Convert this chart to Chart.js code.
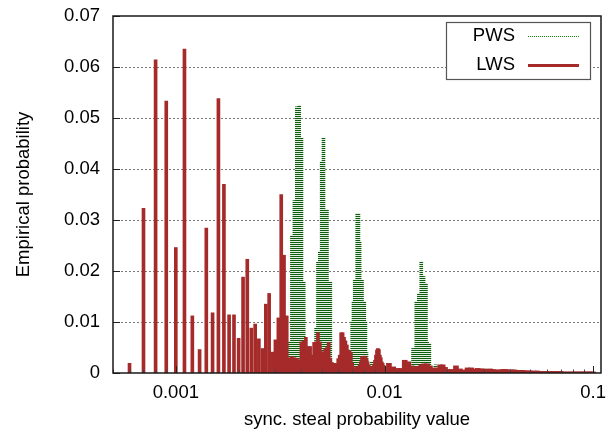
<!DOCTYPE html>
<html><head><meta charset="utf-8">
<script src="https://cdn.jsdelivr.net/npm/chart.js@4.4.1/dist/chart.umd.min.js"></script>
<style>html,body{margin:0;padding:0;background:#fff;}canvas{display:block;}</style>
</head><body>
<canvas id="c" width="606" height="432"></canvas>
<script>
// ---------- data ----------
const xTitle = 'sync. steal probability value';
const yTitle = 'Empirical probability';
const xTickValues = [0.001, 0.01, 0.1];
const xTickLabels = ['0.001', '0.01', '0.1'];
const yTickValues = [0, 0.01, 0.02, 0.03, 0.04, 0.05, 0.06, 0.07];
const yTickLabels = ['0', '0.01', '0.02', '0.03', '0.04', '0.05', '0.06', '0.07'];
const seriesNames = ['PWS', 'LWS'];

// PWS (dotted impulses)
const pwsX = [0.0035,0.0036,0.0037,0.0038,0.0039,0.0040,0.0041,
  0.0047,0.0048,0.0049,0.0050,0.0051,0.0052,0.0053,0.0054,0.0055,0.0056,
  0.0070,0.0071,0.0072,0.0073,0.0074,0.0075,0.0076,0.0077,0.0078,0.0079,0.0080,0.0081,0.0082,
  0.0087,
  0.0137,0.0139,0.0142,0.0144,0.0146,0.0148,0.0150,0.0152,0.0154,0.0156,0.0158,0.0160,0.0162,0.0164,
  0.0174,0.0176];
const pwsY = [0.0061,0.0270,0.0338,0.0522,0.0525,0.0461,0.0179,
  0.0088,0.0217,0.0238,0.0414,0.0461,0.0320,0.0320,0.0178,0.0178,0.0020,
  0.0101,0.0140,0.0182,0.0182,0.0313,0.0313,0.0257,0.0182,0.0182,0.0140,0.0140,0.0101,0.0040,
  0.0022,
  0.0048,0.0048,0.0140,0.0140,0.0156,0.0156,0.0218,0.0189,0.0189,0.0175,0.0175,0.0061,0.0058,0.0058,
  0.0012,0.0016];

// LWS (solid impulses), fine-resolution part
const lwsX = [0.0006,0.0007,0.0008,0.0009,0.0010,0.0011,0.0012,0.0013,0.0014,0.0015,
  0.0016,0.0017,0.0018,0.0019,0.0020,0.0021,0.0022,0.0023,0.0024,0.0025,
  0.0026,0.0027,0.0028,0.0029,0.0030,0.0031,0.0032,0.0033,0.0034,0.0035,
  0.0036,0.0037,0.0038,0.0039,0.0040,0.0041,0.0042,0.0043,0.0044,0.0045,
  0.0046,0.0047,0.0048,0.0049,0.0050,0.0051,0.0052,0.0053,0.0054,0.0055,
  0.0056,0.0057,0.0058,0.0059,0.0060,0.0061,0.0062,0.0063,0.0064,0.0065,
  0.0066,0.0067,0.0068,0.0069,0.0070,0.0071,0.0072,0.0073,0.0074,0.0075,
  0.0076,0.0077,0.0078,0.0079,0.0080,0.0081,0.0082,0.0083,0.0084,0.0085,
  0.0086,0.0087,0.0088,0.0089,0.0090,0.0091,0.0092,0.0093,0.0094,0.0095,
  0.0096,0.0097,0.0098,0.0099,0.0100];
const lwsY = [0.0019,0.0323,0.0614,0.0533,0.0246,0.0635,0.0112,0.0046,0.0284,0.0118,
  0.0538,0.0370,0.0114,0.0114,0.0068,0.0188,0.0223,0.0088,0.0096,0.0067,
  0.0048,0.0135,0.0156,0.0041,0.0065,0.0108,0.0350,0.0231,0.0112,0.0030,
  0.0032,0.0030,0.0029,0.0026,0.0061,0.0063,0.0070,0.0052,0.0052,0.0035,
  0.0060,0.0061,0.0079,0.0061,0.0042,0.0040,0.0048,0.0050,0.0060,0.0029,
  0.0020,0.0019,0.0018,0.0019,0.0028,0.0035,0.0079,0.0079,0.0070,0.0063,
  0.0055,0.0045,0.0043,0.0040,0.0019,0.0009,0.0007,0.0012,0.0012,0.0013,
  0.0015,0.0022,0.0032,0.0032,0.0033,0.0032,0.0028,0.0022,0.0016,0.0012,
  0.0009,0.0010,0.0012,0.0016,0.0025,0.0035,0.0045,0.0048,0.0046,0.0035,
  0.0030,0.0022,0.0019,0.0015,0.0010];

// LWS, coarse tail part (same series)
const lwsTailX = [0.0105,0.0110,0.0115,0.0120,0.0125,0.0130,0.0135,0.0140,0.0145,0.0150,
  0.0155,0.0160,0.0165,0.0170,0.0175,0.0180,0.0185,0.0190,0.0195,0.0200,
  0.021,0.022,0.023,0.024,0.025,0.026,0.027,0.028,0.029,0.030,
  0.031,0.032,0.033,0.034,0.035,0.036,0.037,0.038,0.039,0.040,
  0.041,0.042,0.043,0.044,0.045,0.046,0.047,0.048,0.049,0.050,
  0.052,0.054,0.056,0.058,0.060,0.062,0.064,0.066,0.068,0.070,
  0.072,0.074,0.076,0.078,0.080,0.082,0.084,0.086,0.088,0.090,
  0.092,0.094,0.096,0.098,0.100];
const lwsTailY = [0.0019,0.0012,0.0009,0.0009,0.0025,0.0022,0.0014,0.0011,0.0013,0.0016,
  0.0018,0.0018,0.0014,0.0010,0.0006,0.0010,0.0016,0.0016,0.0011,0.0007,
  0.0007,0.0014,0.0008,0.0006,0.0010,0.0010,0.0008,0.0009,0.0008,0.0008,
  0.0007,0.0008,0.0007,0.0006,0.0006,0.0006,0.0007,0.0007,0.0006,0.0006,
  0.0006,0.0006,0.0005,0.0005,0.0005,0.0005,0.0004,0.0004,0.0004,0.0004,
  0.0004,0.0004,0.0003,0.0003,0.0003,0.0003,0.0003,0.0003,0.0003,0.0003,
  0.0002,0.0002,0.0002,0.0002,0.0002,0.0002,0.0002,0.0002,0.0002,0.0002,
  0.0002,0.0002,0.0002,0.0002,0.0002];

const xMin = 0.0005, xMax = 0.109, yMin = 0, yMax = 0.07;

// ---------- styling ----------
const FONT = "'Liberation Sans', Arial, Helvetica, sans-serif";
const FS = 18.5;
const LWS_COLOR = '#a52a2a';
const PWS_DARK = '#0f5e0f';
const PWS_LIGHT = '#e2ede2';

Chart.defaults.font.family = FONT;
Chart.defaults.font.size = FS;
Chart.defaults.color = '#000';

const canvas = document.getElementById('c');
const ctx0 = canvas.getContext('2d');
const pc = document.createElement('canvas');
pc.width = 2; pc.height = 2;
const pctx = pc.getContext('2d');
pctx.fillStyle = PWS_LIGHT; pctx.fillRect(0, 0, 2, 2);
pctx.fillStyle = PWS_DARK; pctx.fillRect(0, 0, 2, 1);
const pwsPattern = ctx0.createPattern(pc, 'repeat');

const toXY = (xs, ys) => xs.map((x, i) => ({x: x, y: ys[i]}));

const decoPlugin = {
  id: 'deco',
  beforeDatasetsDraw(chart) {
    const {ctx, chartArea: a, scales: {y}} = chart;
    ctx.save();
    ctx.strokeStyle = '#7a7a7a';
    ctx.lineWidth = 1;
    ctx.setLineDash([2, 2]);
    yTickValues.forEach(v => {
      if (v <= yMin || v >= yMax) return;
      const py = Math.round(y.getPixelForValue(v)) + 0.5;
      ctx.beginPath(); ctx.moveTo(a.left, py); ctx.lineTo(a.right, py); ctx.stroke();
    });
    ctx.restore();
  },
  afterDatasetsDraw(chart) {
    const {ctx, chartArea: a, scales: {x, y}} = chart;
    ctx.save();
    ctx.setLineDash([]);
    // y ticks (inward)
    ctx.strokeStyle = '#222';
    ctx.lineWidth = 1;
    yTickValues.forEach(v => {
      const py = Math.round(y.getPixelForValue(v)) + 0.5;
      ctx.beginPath(); ctx.moveTo(a.left, py); ctx.lineTo(a.left + 7, py); ctx.stroke();
    });
    // x ticks: major and minor (log)
    for (let d = -4; d <= -1; d++) {
      for (let m = 1; m <= 9; m++) {
        const v = m * Math.pow(10, d);
        if (v < xMin || v > xMax) continue;
        const px = Math.round(x.getPixelForValue(v)) + 0.5;
        const len = (m === 1) ? 7 : 3.5;
        ctx.strokeStyle = (m === 1) ? '#222' : '#444';
        ctx.beginPath(); ctx.moveTo(px, a.bottom); ctx.lineTo(px, a.bottom - len); ctx.stroke();
      }
    }
    // frame
    ctx.strokeStyle = '#1a1a1a';
    ctx.lineWidth = 1.5;
    ctx.strokeRect(a.left, a.top, a.right - a.left, a.bottom - a.top);
    // legend
    const lx = 446.5, ly = 22.5, lw = 144, lh = 57;
    ctx.fillStyle = '#fff';
    ctx.fillRect(lx, ly, lw, lh);
    ctx.strokeStyle = '#555';
    ctx.lineWidth = 1.2;
    ctx.strokeRect(lx, ly, lw, lh);
    ctx.font = FS + 'px ' + FONT;
    ctx.fillStyle = '#000';
    ctx.textAlign = 'right';
    ctx.textBaseline = 'middle';
    const rows = [36, 65];
    seriesNames.forEach((name, i) => {
      ctx.fillText(name, 515, rows[i]);
      ctx.beginPath();
      if (i === 0) {
        ctx.strokeStyle = '#138a13'; ctx.lineWidth = 1; ctx.setLineDash([1, 1]);
      } else {
        ctx.strokeStyle = LWS_COLOR; ctx.lineWidth = 3; ctx.setLineDash([]);
      }
      ctx.moveTo(528, rows[i] + 0.5); ctx.lineTo(579, rows[i] + 0.5); ctx.stroke();
    });
    ctx.restore();
  }
};

new Chart(canvas, {
  type: 'bar',
  data: {
    datasets: [
      {label: seriesNames[0], data: toXY(pwsX, pwsY), backgroundColor: pwsPattern,
       barThickness: 3, grouped: false, order: 2, borderWidth: 0},
      {label: seriesNames[1], data: toXY(lwsX, lwsY), backgroundColor: LWS_COLOR,
       barThickness: 3, grouped: false, order: 1, borderWidth: 0},
      {label: seriesNames[1], data: toXY(lwsTailX, lwsTailY), backgroundColor: LWS_COLOR,
       barThickness: 5, grouped: false, order: 1, borderWidth: 0}
    ]
  },
  options: {
    responsive: false,
    animation: false,
    events: [],
    layout: {padding: {top: 16, right: 5, left: 0, bottom: 0}},
    plugins: {legend: {display: false}, tooltip: {enabled: false}, title: {display: false}},
    scales: {
      x: {
        type: 'logarithmic', min: xMin, max: xMax, offset: false,
        grid: {display: false, offset: false, drawTicks: false},
        border: {display: false},
        ticks: {padding: 9, autoSkip: false, maxRotation: 0, minRotation: 0, color: '#000',
                font: {size: FS}, callback: (v, i) => xTickLabels[i]},
        afterBuildTicks: s => { s.ticks = xTickValues.map(v => ({value: v})); },
        afterFit: s => { s.height = 59; s.paddingRight = 0; s.paddingLeft = 0; },
        title: {display: true, text: xTitle, color: '#000', font: {size: FS}, padding: {top: 0, bottom: 1}}
      },
      y: {
        type: 'linear', min: yMin, max: yMax,
        grid: {display: false, drawTicks: false},
        border: {display: false},
        ticks: {padding: 13, color: '#000', font: {size: FS}, callback: (v, i) => yTickLabels[i]},
        afterBuildTicks: s => { s.ticks = yTickValues.map(v => ({value: v})); },
        afterFit: s => { s.width = 113; s.paddingTop = 0; s.paddingBottom = 0; },
        title: {display: true, text: yTitle, color: '#000', font: {size: FS}, padding: {top: 13, bottom: 0}}
      }
    }
  },
  plugins: [decoPlugin]
});
</script>
</body></html>
